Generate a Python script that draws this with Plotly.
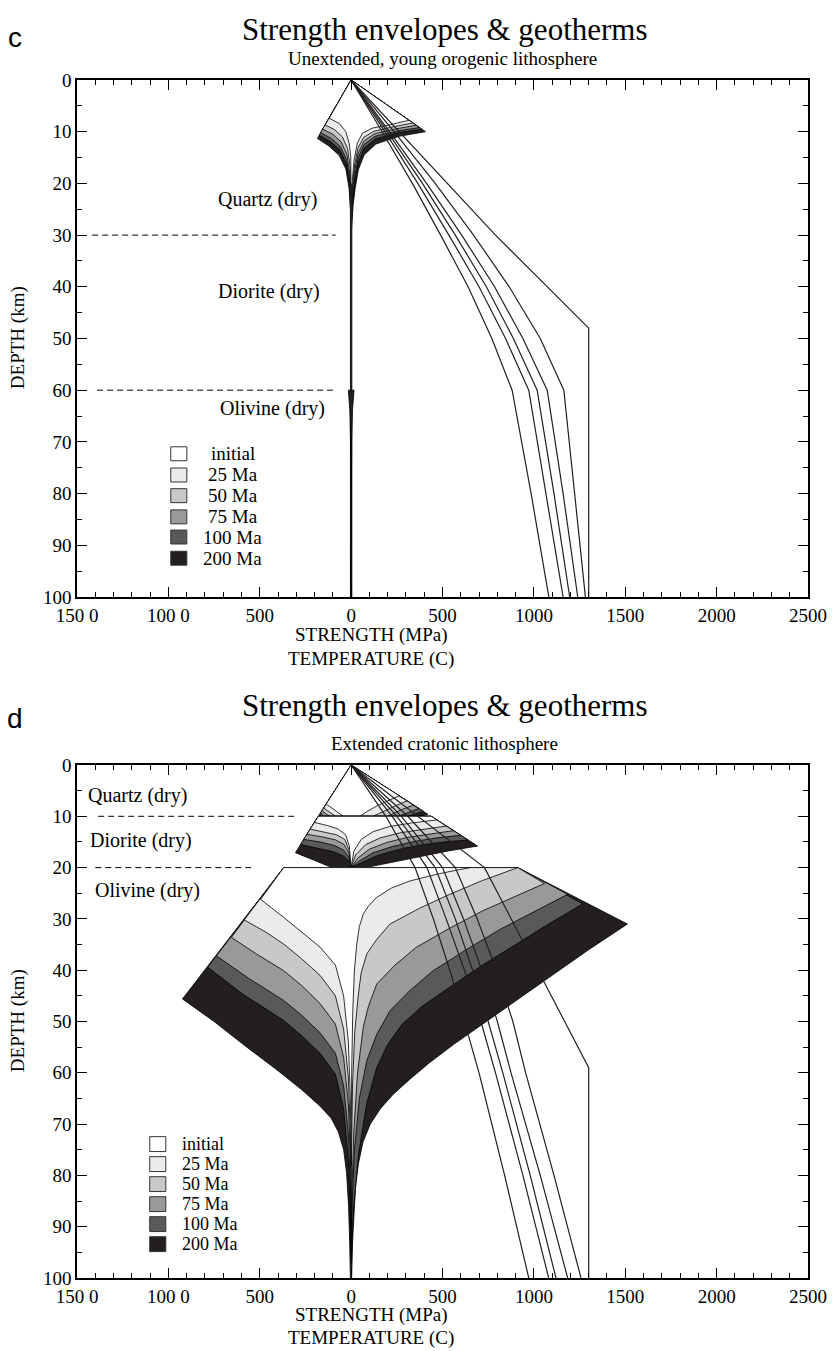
import plotly.graph_objects as go

# ---------------- data ----------------
AGES = ["initial", "25 Ma", "50 Ma", "75 Ma", "100 Ma", "200 Ma"]
FILLS = ["#ffffff", "#ebebeb", "#c7c8ca", "#98999b", "#58595b", "#231f20"]

# Panel c (unextended, young orogenic) : (strength MPa, depth km), order initial..200 Ma
C_QTZ_R = [
    [(316, 7.8), (207, 8.7), (116, 9.3), (62, 10.3), (34, 12.2), (16, 15.5), (7, 19.3), (0, 24)],
    [(338, 8.3), (225, 9.1), (125, 9.9), (68, 11.1), (37, 13.2), (18, 16.6), (8, 20.5), (0, 26)],
    [(356, 8.75), (238, 9.5), (128, 10.4), (70, 11.8), (38, 14.2), (19, 17.6), (9, 21.4), (0, 27)],
    [(374, 9.2), (248, 9.9), (130, 10.9), (70, 12.5), (39, 15.0), (20, 18.6), (10, 22.2), (0, 28)],
    [(388, 9.55), (255, 10.2), (132, 11.4), (71, 13.2), (40, 15.9), (21, 19.6), (10, 23), (0, 29)],
    [(407, 10), (262, 10.9), (135, 12.4), (71, 14.5), (40, 17.3), (22, 21), (11, 24.2), (0, 30)],
]
C_QTZ_L = [
    [(-120, 7.4), (-65, 8.4), (-29, 10), (-11, 12.2), (-2, 14.8), (0, 20)],
    [(-142, 8.7), (-90, 9.6), (-48, 11), (-20, 13.2), (-6, 16.5), (0, 22)],
    [(-156, 9.5), (-100, 10.5), (-54, 12), (-23, 14.4), (-8, 18), (0, 24)],
    [(-167, 10.2), (-108, 11.3), (-58, 12.9), (-25, 15.4), (-9, 19), (0, 26)],
    [(-175, 10.7), (-114, 11.9), (-62, 13.5), (-27, 16.1), (-10, 19.8), (0, 28)],
    [(-184, 11.3), (-120, 12.8), (-65, 14.6), (-29, 17.2), (-11, 21), (-2, 25.5), (0, 30)],
]
C_OLV_R = [(16, 60), (7, 64), (3, 70), (1.5, 80), (1, 100)]
C_OLV_L = [(-15, 60), (-7, 64), (-3, 70), (-1.5, 80), (-1, 100)]

# Panel d (extended cratonic)
D_QTZ_R = [
    [(263, 6.0), (200, 7.0), (140, 8.0), (90, 9.0), (49, 10)],
    [(305, 7.0), (240, 8.0), (180, 9.0), (120, 10)],
    [(340, 7.8), (270, 8.8), (200, 10)],
    [(370, 8.5), (310, 9.3), (260, 10)],
    [(395, 9.0), (340, 9.7), (310, 10)],
    [(420, 9.6), (380, 10)],
]
D_QTZ_L = [
    [(-136, 7.6), (-100, 8.6), (-70, 9.3), (-42, 10)],
    [(-150, 8.4), (-115, 9.3), (-85, 10)],
    [(-160, 8.9), (-135, 9.6), (-115, 10)],
    [(-167, 9.3), (-150, 10)],
    [(-172, 9.6), (-163, 10)],
    [(-179, 10)],
]
D_DIO_TOP = (-179, 438)
D_DIO_R = [
    [(470, 10.7), (330, 11.3), (210, 12.0), (120, 13.0), (55, 14.5), (15, 16.8), (0, 20)],
    [(520, 11.9), (390, 12.5), (270, 13.2), (160, 14.2), (80, 15.5), (25, 17.5), (0, 20)],
    [(560, 12.8), (430, 13.4), (310, 14.1), (195, 15.1), (100, 16.4), (35, 18.2), (0, 20)],
    [(600, 13.7), (470, 14.2), (345, 14.9), (225, 15.9), (120, 17.1), (45, 18.7), (0, 20)],
    [(640, 14.6), (510, 15.0), (380, 15.6), (255, 16.5), (140, 17.7), (55, 19.1), (0, 20)],
    [(692, 15.8), (540, 16.7), (400, 17.7), (270, 18.6), (160, 19.4), (80, 20)],
]
D_DIO_L = [
    [(-200, 11.2), (-130, 11.8), (-70, 12.5), (-30, 13.6), (-10, 15.8), (0, 20)],
    [(-224, 12.5), (-150, 13.0), (-80, 13.6), (-35, 14.5), (-12, 16.5), (0, 20)],
    [(-242, 13.5), (-160, 14.0), (-85, 14.6), (-38, 15.5), (-12, 17.2), (0, 20)],
    [(-260, 14.5), (-170, 15.0), (-90, 15.7), (-40, 16.6), (-12, 18), (0, 20)],
    [(-277, 15.5), (-180, 16.2), (-97, 16.9), (-40, 17.8), (-10, 18.8), (0, 20)],
    [(-305, 17.1), (-220, 18.3), (-132, 19.6), (-100, 20)],
]
D_OLV_TOP = (-369, 912)
D_OLV_R = [
    [(649, 20), (480, 21.2), (322, 22.6), (220, 24), (140, 25.8), (95, 27.5), (67, 29), (45, 31.5),
     (31, 34.9), (18, 40), (9, 48), (3, 60), (0, 75)],
    [(912, 20), (720, 22.5), (540, 25.2), (370, 28), (213, 31), (140, 34), (86, 36.8), (55, 40.5),
     (40, 44.6), (20, 52), (8, 62), (2, 75), (0, 90)],
    [(1058, 23.1), (890, 25.7), (721, 28.4), (540, 31.8), (358, 35.5), (240, 39), (140, 42.7), (95, 47),
     (67, 51), (35, 60), (14, 72), (4, 84), (0, 93)],
    [(1185, 25.2), (1000, 28.6), (812, 32.1), (630, 36), (449, 40.1), (320, 44), (213, 47.9), (140, 52.5),
     (86, 57.6), (45, 65), (18, 75), (5, 86), (0, 95)],
    [(1267, 27.1), (1080, 31), (900, 35), (720, 39), (540, 43.3), (390, 47), (280, 50.5), (200, 54.5),
     (140, 59), (85, 66), (40, 76), (12, 87), (0, 97)],
    [(1512, 31), (1300, 36), (1100, 41), (900, 46), (720, 50.5), (560, 54.5), (430, 58), (320, 61.3),
     (230, 64.2), (160, 67), (105, 70), (65, 73.5), (40, 77.7), (25, 82), (16, 87.4), (8, 93), (3, 100)],
]
D_OLV_L = [
    [(-495, 26.2), (-369, 29.7), (-270, 32.5), (-170, 35.5), (-86, 39), (-41, 45), (-15, 54), (-4, 65), (0, 78)],
    [(-585, 30.2), (-470, 32.5), (-369, 34.9), (-270, 37.8), (-170, 41), (-86, 45), (-41, 51.5), (-15, 61),
     (-4, 72), (0, 84)],
    [(-655, 33.6), (-520, 36.8), (-369, 40.1), (-270, 43), (-170, 46.5), (-86, 50.5), (-41, 57), (-15, 66),
     (-4, 77), (0, 88)],
    [(-737, 37.2), (-560, 41.6), (-369, 45.9), (-270, 48.8), (-170, 52.2), (-86, 56.2), (-41, 62.5), (-15, 72),
     (-4, 83), (0, 92)],
    [(-785, 39.4), (-600, 44.5), (-369, 49.8), (-270, 52.8), (-170, 56.2), (-86, 60.3), (-41, 67), (-15, 77),
     (-4, 88), (0, 96)],
    [(-923, 45.6), (-750, 50), (-560, 55.3), (-400, 59.6), (-270, 63.3), (-170, 66.5), (-110, 68.8), (-70, 71.5),
     (-41, 75), (-25, 79.5), (-14, 86), (-8, 93), (-4, 100)],
]

# Geotherms (temperature C vs depth km)
GEO_Z = [0, 10, 20, 30, 40, 50, 60, 80, 100]
C_GEO = [
    [0, 235, 460, 670, 865, 1035, 1164, 1225, 1282],   # 25 Ma
    [0, 210, 413, 605, 785, 940, 1073, 1160, 1240],    # 50 Ma
    [0, 198, 390, 570, 740, 888, 1018, 1110, 1196],    # 75 Ma
    [0, 185, 365, 535, 700, 845, 972, 1068, 1160],     # 100 Ma
    [0, 170, 335, 490, 640, 770, 881, 985, 1082],      # 200 Ma
]
C_GEO_INIT_T = [0, 790, 1300, 1300]
C_GEO_INIT_Z = [0, 30, 48, 100]
D_GEO = [
    [0, 310, 570, 690, 795, 885, 955, 1110, 1258],
    [0, 275, 500, 615, 715, 800, 875, 1035, 1185],
    [0, 250, 460, 570, 665, 750, 830, 980, 1121],
    [0, 225, 415, 520, 620, 710, 790, 940, 1081],
    [0, 190, 350, 450, 540, 620, 700, 840, 972],
]
D_GEO_INIT_T = [0, 730, 1300, 1300]
D_GEO_INIT_Z = [0, 20, 59, 100]

C_LAYERS = [("Quartz (dry)", -460, 23.1), ("Diorite (dry)", -447, 40.9), ("Olivine (dry)", -431, 63.5)]
D_LAYERS = [("Quartz (dry)", -1167, 6.0), ("Diorite (dry)", -1150, 14.7), ("Olivine (dry)", -1112, 24.5)]
C_BOUNDS = [(30, -1417, -84), (60, -1390, -100)]
D_BOUNDS = [(10, -1384, -293), (20, -1400, -547)]
C_LEG_DEPTH = [72.3, 76.4, 80.4, 84.5, 88.4, 92.5]
D_LEG_DEPTH = [73.9, 77.8, 81.7, 85.6, 89.5, 93.4]

TICKV = [-1500, -1000, -500, 0, 500, 1000, 1500, 2000, 2500]
TICKT = ["150 0", "100 0", "500", "0", "500", "1000", "1500", "2000", "2500"]

# ---------------- figure ----------------
W, H = 839, 1351
ML, MR, MT, MB = 77, 29, 80, 73
PW, PH = W - ML - MR, H - MT - MB
SERIF = "Liberation Serif"
fig = go.Figure()


def band(top_l, top_r, z_top, right, left, color, xa, ya):
    xs, zs = [top_l], [z_top]
    if right[0][1] > z_top or right[0][0] > top_r:
        xs.append(top_r); zs.append(z_top)
    xs += [p[0] for p in right]; zs += [p[1] for p in right]
    rl = list(reversed(left))
    xs += [p[0] for p in rl]; zs += [p[1] for p in rl]
    xs.append(top_l); zs.append(z_top)
    fig.add_trace(go.Scatter(x=xs, y=zs, mode="lines", fill="toself", fillcolor=color,
                             line=dict(color="black", width=0.8), xaxis=xa, yaxis=ya,
                             hoverinfo="skip", showlegend=False))


def layer(top, z_top, R, L, xa, ya):
    for i in range(5, -1, -1):
        band(top[0], top[1], z_top, R[i], L[i], FILLS[i], xa, ya)


# panel c envelopes
layer((0, 0), 0, C_QTZ_R, C_QTZ_L, "x", "y")
fig.add_trace(go.Scatter(x=[0, 0], y=[20, 100], mode="lines", line=dict(color="#231f20", width=2.4),
                         xaxis="x", yaxis="y", hoverinfo="skip", showlegend=False))
band(0, 0, 60, C_OLV_R, C_OLV_L, FILLS[5], "x", "y")

# panel d envelopes
layer((0, 0), 0, D_QTZ_R, D_QTZ_L, "x2", "y2")
layer(D_DIO_TOP, 10, D_DIO_R, D_DIO_L, "x2", "y2")
layer(D_OLV_TOP, 20, D_OLV_R, D_OLV_L, "x2", "y2")

# geotherms
GEO_LINE = dict(color="#231f20", width=1.2)
for temps in C_GEO:
    fig.add_trace(go.Scatter(x=temps, y=GEO_Z, mode="lines", line=GEO_LINE,
                             xaxis="x", yaxis="y", hoverinfo="skip", showlegend=False))
fig.add_trace(go.Scatter(x=C_GEO_INIT_T, y=C_GEO_INIT_Z, mode="lines", line=GEO_LINE,
                         xaxis="x", yaxis="y", hoverinfo="skip", showlegend=False))
for temps in D_GEO:
    fig.add_trace(go.Scatter(x=temps, y=GEO_Z, mode="lines", line=GEO_LINE,
                             xaxis="x2", yaxis="y2", hoverinfo="skip", showlegend=False))
fig.add_trace(go.Scatter(x=D_GEO_INIT_T, y=D_GEO_INIT_Z, mode="lines", line=GEO_LINE,
                         xaxis="x2", yaxis="y2", hoverinfo="skip", showlegend=False))

# layer boundaries (dashed)
for (z, a, b) in C_BOUNDS:
    fig.add_trace(go.Scatter(x=[a, b], y=[z, z], mode="lines", line=dict(color="black", width=1, dash="6px,4px"),
                             xaxis="x", yaxis="y", hoverinfo="skip", showlegend=False))
for (z, a, b) in D_BOUNDS:
    fig.add_trace(go.Scatter(x=[a, b], y=[z, z], mode="lines", line=dict(color="black", width=1, dash="6px,4px"),
                             xaxis="x2", yaxis="y2", hoverinfo="skip", showlegend=False))

annotations = []
shapes = []
for (t, x, z) in C_LAYERS:
    annotations.append(dict(text=t, x=x, y=z, xref="x", yref="y", showarrow=False,
                            font=dict(family=SERIF, size=20, color="black")))
for (t, x, z) in D_LAYERS:
    annotations.append(dict(text=t, x=x, y=z, xref="x2", yref="y2", showarrow=False,
                            font=dict(family=SERIF, size=20, color="black")))

# legends (boxes + labels)
for i, (lab, z) in enumerate(zip(AGES, C_LEG_DEPTH)):
    shapes.append(dict(type="rect", xref="x", yref="y", x0=-943 - 44, x1=-943 + 44, y0=z - 1.35, y1=z + 1.35,
                       fillcolor=FILLS[i], line=dict(color="#333333", width=1)))
    annotations.append(dict(text=lab, x=-647, y=z, xref="x", yref="y", showarrow=False, xanchor="center",
                            font=dict(family=SERIF, size=19, color="black")))
for i, (lab, z) in enumerate(zip(AGES, D_LEG_DEPTH)):
    shapes.append(dict(type="rect", xref="x2", yref="y2", x0=-1058 - 44, x1=-1058 + 44, y0=z - 1.45, y1=z + 1.45,
                       fillcolor=FILLS[i], line=dict(color="#333333", width=1)))
    annotations.append(dict(text=lab, x=-935, y=z, xref="x2", yref="y2", showarrow=False, xanchor="left",
                            font=dict(family=SERIF, size=18, color="black")))


def px(xp, yp):
    return (xp - ML) / PW, (H - MB - yp) / PH


def ptext(t, xp, yp, size, family=SERIF, angle=0, xanchor="center"):
    x, y = px(xp, yp)
    annotations.append(dict(text=t, x=x, y=y, xref="paper", yref="paper", showarrow=False,
                            xanchor=xanchor, yanchor="middle", textangle=angle,
                            font=dict(family=family, size=size, color="black")))


ptext("c", 15, 38, 28, family="Liberation Sans")
ptext("Strength envelopes &amp; geotherms", 446, 30, 31)
ptext("Unextended, young orogenic lithosphere", 443, 58, 19)
ptext("STRENGTH (MPa)", 372, 635, 19)
ptext("TEMPERATURE (C)", 372, 659, 19)
ptext("DEPTH (km)", 18, 338, 19, angle=-90)
ptext("d", 15, 718, 28, family="Liberation Sans")
ptext("Strength envelopes &amp; geotherms", 446, 705, 31)
ptext("Extended cratonic lithosphere", 446, 743, 19)
ptext("STRENGTH (MPa)", 372, 1315, 19)
ptext("TEMPERATURE (C)", 372, 1338, 19)
ptext("DEPTH (km)", 18, 1021, 19, angle=-90)

ytop_c = (H - MB - 80) / PH
ybot_c = (H - MB - 597) / PH
ytop_d = (H - MB - 765) / PH


def xaxis(anchor):
    return dict(range=[-1500, 2500], tickmode="array", tickvals=TICKV, ticktext=TICKT, ticks="inside",
                ticklen=10, tickwidth=1.2, tickcolor="black", showline=True, linecolor="black", linewidth=1.5,
                mirror="ticks", showgrid=False, zeroline=False, anchor=anchor, domain=[0, 1],
                minor=dict(tickmode="linear", tick0=0, dtick=100, ticks="inside", ticklen=5, tickwidth=1,
                           tickcolor="black", showgrid=False),
                tickfont=dict(family=SERIF, size=19, color="black"))


def yaxis(anchor, dom):
    return dict(range=[100, 0], tickmode="array", tickvals=list(range(0, 101, 10)),
                ticks="inside", ticklen=10, tickwidth=1.2, tickcolor="black", showline=True, linecolor="black",
                linewidth=1.5, mirror="ticks", showgrid=False, zeroline=False, anchor=anchor, domain=dom,
                minor=dict(tickmode="linear", tick0=0, dtick=5, ticks="inside", ticklen=5, tickwidth=1,
                           tickcolor="black", showgrid=False),
                tickfont=dict(family=SERIF, size=19, color="black"))


fig.update_layout(
    width=W, height=H, margin=dict(l=ML, r=MR, t=MT, b=MB),
    paper_bgcolor="white", plot_bgcolor="white", showlegend=False,
    xaxis=xaxis("y"), yaxis=yaxis("x", [ybot_c, ytop_c]),
    xaxis2=xaxis("y2"), yaxis2=yaxis("x2", [0, ytop_d]),
    annotations=annotations, shapes=shapes,
)

fig.write_html("out.html")
